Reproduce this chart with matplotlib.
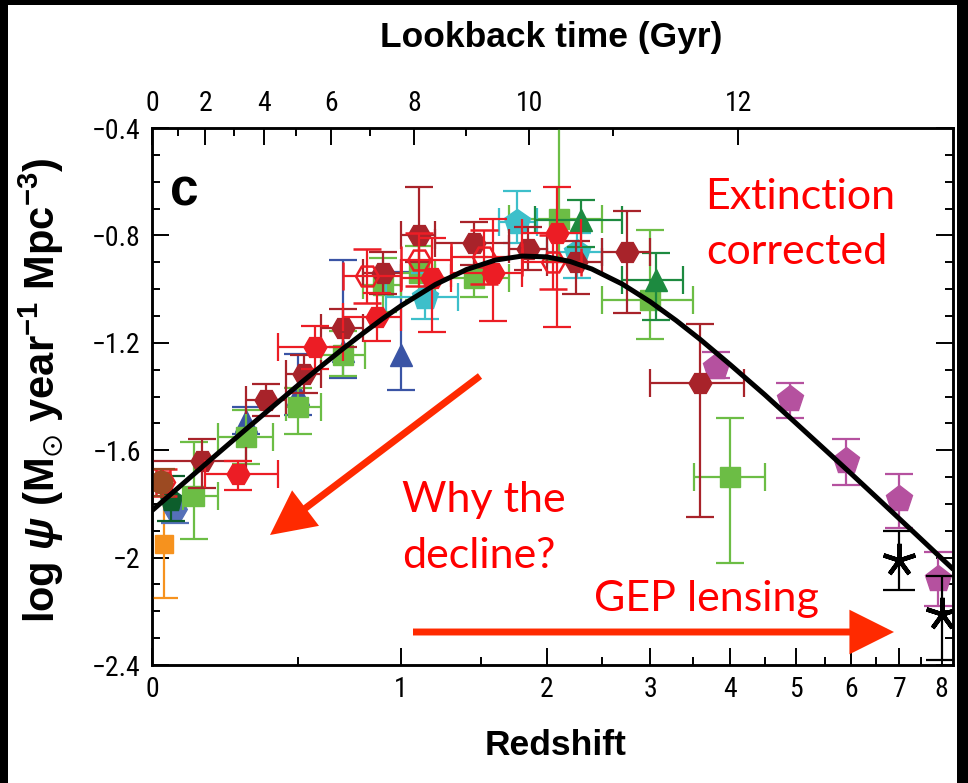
import numpy as np
import matplotlib
matplotlib.use("Agg")
import matplotlib.pyplot as plt
from matplotlib import font_manager
from matplotlib.font_manager import FontProperties
from matplotlib.patches import FancyArrowPatch, Rectangle, ArrowStyle

# ---------------- data ----------------
# model curve (log psi vs redshift)
curve_z = [0, 0.1, 0.2, 0.3, 0.4, 0.5, 0.6, 0.7, 0.8, 0.9, 1.0, 1.2, 1.4, 1.6, 1.8,
           2.0, 2.2, 2.4, 2.7, 3.0, 3.3, 3.6, 4.0, 4.5, 5.0, 5.5, 6.0, 6.5, 7.0, 7.5, 8.0, 8.3]
curve_v = [-1.825, -1.714, -1.613, -1.521, -1.437, -1.359, -1.288, -1.223, -1.164, -1.110,
           -1.062, -0.983, -0.927, -0.892, -0.877, -0.880, -0.897, -0.925, -0.981, -1.047,
           -1.117, -1.188, -1.282, -1.393, -1.499, -1.597, -1.688, -1.774, -1.855, -1.931,
           -2.003, -2.044]

# light-green squares
gsq_z = [0.125, 0.30, 0.50, 0.70, 0.90, 1.10, 1.45, 2.10, 3.00, 4.00]
gsq_v = [-1.77, -1.55, -1.44, -1.245, -0.985, -0.94, -0.96, -0.74, -1.04, -1.70]
gsq_zlo = [0.09, 0.20, 0.45, 0.60, 0.80, 1.00, 1.20, 1.70, 2.50, 3.52]
gsq_zhi = [0.20, 0.40, 0.60, 0.81, 1.00, 1.20, 1.70, 2.50, 3.50, 4.50]
gsq_dn = [0.16, 0.10, 0.10, 0.08, 0.10, 0.10, 0.07, 0.15, 0.145, 0.32]
gsq_up = [0.20, 0.10, 0.07, 0.09, 0.10, 0.10, 0.08, 0.40, 0.26, 0.22]

# blue triangles
btri_z = [0.30, 0.50, 0.70, 1.00]
btri_v = [-1.49, -1.39, -1.23, -1.245]
btri_dn = [0.05, 0.08, 0.10, 0.13]
btri_up = [0.05, 0.15, 0.34, 0.31]

# dark-red filled hexagons
dred_z = [0.15, 0.375, 0.525, 0.70, 0.90, 1.10, 1.45, 1.85, 2.25, 2.75, 3.60]
dred_v = [-1.64, -1.413, -1.316, -1.145, -0.94, -0.80, -0.83, -0.85, -0.90, -0.86, -1.35]
dred_zlo = [0.00, 0.30, 0.45, 0.60, 0.80, 1.00, 1.20, 1.70, 2.00, 2.50, 3.00]
dred_zhi = [0.30, 0.45, 0.60, 0.80, 1.00, 1.20, 1.70, 2.00, 2.50, 3.00, 4.20]
dred_dn = [0.10, 0.06, 0.07, 0.07, 0.08, 0.10, 0.08, 0.08, 0.12, 0.23, 0.50]
dred_up = [0.08, 0.06, 0.07, 0.07, 0.08, 0.18, 0.08, 0.08, 0.08, 0.15, 0.22]

# bright-red filled hexagons
red_z = [0.27, 0.575, 0.87, 1.18, 1.58, 2.09]
red_v = [-1.69, -1.216, -1.104, -0.96, -0.94, -0.79]
red_zlo = [0.16, 0.42, 0.70, 1.00, 1.30, 1.80]
red_zhi = [0.42, 0.70, 1.00, 1.30, 1.80, 2.30]
red_dn = [0.06, 0.08, 0.09, 0.20, 0.18, 0.35]
red_up = [0.05, 0.08, 0.09, 0.15, 0.20, 0.17]

# red open hexagons
rop_z = [0.03, 0.82, 1.10, 1.52, 2.05]
rop_v = [-1.72, -0.95, -0.89, -0.88, -0.90]
rop_zlo = [0.01, 0.70, 1.00, 1.30, 1.80]
rop_zhi = [0.05, 1.00, 1.30, 1.80, 2.30]
rop_dn = [0.05, 0.10, 0.10, 0.10, 0.10]
rop_up = [0.05, 0.10, 0.10, 0.10, 0.10]

# cyan pentagons
cyan_z = [1.14, 1.76, 2.26]
cyan_v = [-1.03, -0.75, -0.86]
cyan_zlo = [0.92, 1.63, 2.00]
cyan_zhi = [1.34, 1.92, 2.50]
cyan_dn = [0.08, 0.08, 0.10]
cyan_up = [0.09, 0.115, 0.07]

# dark-green triangles
dgt_z = [2.30, 3.06]
dgt_v = [-0.743, -0.966]
dgt_zlo = [1.90, 2.70]
dgt_zhi = [2.70, 3.38]
dgt_dn = [0.10, 0.15]
dgt_up = [0.075, 0.10]

# magenta pentagons
mag_z = [3.8, 4.9, 5.9, 7.0, 7.9]
mag_v = [-1.29, -1.41, -1.64, -1.78, -2.08]
mag_dn = [0.04, 0.07, 0.09, 0.11, 0.10]
mag_up = [0.055, 0.06, 0.08, 0.09, 0.10]

# black asterisks (lensing)
ast_z = [7.0, 8.0]
ast_v = [-2.01, -2.21]
ast_dn = [0.11, 0.17]
ast_up = [0.11, 0.14]

# local (z ~ 0) points
orange_z, orange_v, orange_dn, orange_up = [0.035], [-1.95], [0.20], [0.20]
brown_z, brown_v, brown_dn, brown_up = [0.025], [-1.72], [0.05], [0.05]
dgp_z, dgp_v, dgp_dn, dgp_up = [0.055], [-1.785], [0.08], [0.09]
bhex_z, bhex_v, bhex_dn, bhex_up = [0.065], [-1.82], [0.05], [0.05]

z_ticks = [0, 1, 2, 3, 4, 5, 6, 7, 8]
z_minor = [0.5, 1.5, 2.5, 3.5, 4.5, 5.5, 6.5, 7.5]
lookback_major = [0, 2, 4, 6, 8, 10, 12]
lookback_minor = [1, 3, 5, 7, 9, 11]
y_ticks = [-2.4, -2.0, -1.6, -1.2, -0.8, -0.4]
y_ticklabels = ["\u22122.4", "\u22122", "\u22121.6", "\u22121.2", "\u22120.8", "\u22120.4"]

# ---------------- fonts ----------------
names = {f.name for f in font_manager.fontManager.ttflist}
BOLD = "Liberation Sans" if "Liberation Sans" in names else "DejaVu Sans"
RED_FONT = "Lato" if "Lato" in names else "DejaVu Sans"

# look for a narrow / condensed regular face for the tick labels
pref = ["Liberation Sans Narrow", "Roboto Condensed", "Open Sans", "Noto Sans",
        "DejaVu Sans", "Roboto", "Lato"]
best = None
for f in font_manager.fontManager.ttflist:
    is_narrow = (f.stretch in ("condensed", "semi-condensed", "extra-condensed")
                 or "Narrow" in f.name or "Condensed" in f.name)
    w = f.weight if isinstance(f.weight, int) else 400
    if is_narrow and f.style == "normal" and 350 <= w <= 450:
        rank = next((i for i, p in enumerate(pref) if f.name.startswith(p)), 99)
        if best is None or rank < best[0]:
            best = (rank, f.fname)
if best is not None:
    tick_prop = FontProperties(fname=best[1], size=20)
else:
    tick_prop = FontProperties(family="Roboto" if "Roboto" in names else "DejaVu Sans",
                               size=17)

plt.rcParams["mathtext.fontset"] = "custom"
plt.rcParams["mathtext.rm"] = BOLD + ":bold"
plt.rcParams["mathtext.it"] = BOLD + ":bold:italic"
plt.rcParams["mathtext.bf"] = BOLD + ":bold"
plt.rcParams["mathtext.fallback"] = "stixsans"

# ---------------- cosmology for lookback axis ----------------
H0, Om, OL = 70.0, 0.3, 0.7
A = 2.0 / (3.0 * np.sqrt(OL)) * (977.79 / H0)
S = np.sqrt(OL / Om)
T0 = A * np.arcsinh(S)


def z_of_lookback(t):
    t = np.asarray(t, dtype=float)
    return (np.sinh((T0 - t) / A) / S) ** (-2.0 / 3.0) - 1.0


def fwd(z):
    return np.log10(1.0 + np.asarray(z, dtype=float))


def inv(x):
    return 10.0 ** np.asarray(x, dtype=float) - 1.0


# ---------------- figure ----------------
W, H = 968, 783
fig = plt.figure(figsize=(W / 100, H / 100), dpi=100)
fig.patch.set_facecolor("black")
fig.add_artist(Rectangle((8 / W, 0), (957 - 8) / W, (H - 5) / H,
                         transform=fig.transFigure, facecolor="white",
                         edgecolor="none", zorder=-10))

ax = fig.add_axes([152 / W, 1 - 665 / H, (953 - 152) / W, (665 - 128) / H])
ax.set_xscale("function", functions=(fwd, inv))
ZMAX = 8.29
ax.set_xlim(0, ZMAX)
ax.set_ylim(-2.4, -0.4)
ax.patch.set_alpha(0)

ebkw = dict(elinewidth=1.6, capthick=1.6, capsize=10, linestyle="none")


def series(z, v, dn, up, zlo=None, zhi=None, **kw):
    z = np.asarray(z)
    xerr = None
    if zlo is not None:
        xerr = [z - np.asarray(zlo), np.asarray(zhi) - z]
    opts = dict(ebkw)
    opts.update(kw)
    ax.errorbar(z, v, yerr=[dn, up], xerr=xerr, **opts)


C_GREEN = "#6cbd45"
C_BLUE = "#3a54a5"
C_DRED = "#a8232a"
C_RED = "#ec1d25"
C_CYAN = "#3dbfca"
C_DGREEN = "#1d8a40"
C_MAG = "#b5519f"
C_ORANGE = "#f6921e"
C_BROWN = "#9c4a22"
C_DGP = "#0d5e2c"
C_BHEX = "#5570b8"

series(btri_z, btri_v, btri_dn, btri_up, fmt="^", ms=16, color=C_BLUE, zorder=3)
series(orange_z, orange_v, orange_dn, orange_up, fmt="s", ms=13, color=C_ORANGE, zorder=3)
series(bhex_z, bhex_v, bhex_dn, bhex_up, fmt="H", ms=17, color=C_BHEX, zorder=3)
series(dgp_z, dgp_v, dgp_dn, dgp_up, fmt="p", ms=17, color=C_DGP, zorder=3.1)
series(gsq_z, gsq_v, gsq_dn, gsq_up, gsq_zlo, gsq_zhi, fmt="s", ms=14, color=C_GREEN, zorder=4)
series(cyan_z, cyan_v, cyan_dn, cyan_up, cyan_zlo, cyan_zhi, fmt="p", ms=19, color=C_CYAN, zorder=4.2)
series(dgt_z, dgt_v, dgt_dn, dgt_up, dgt_zlo, dgt_zhi, fmt="^", ms=16, color=C_DGREEN, zorder=4.3)
series(mag_z, mag_v, mag_dn, mag_up, fmt="p", ms=20, color=C_MAG, zorder=4.4)
series(rop_z[:1], rop_v[:1], rop_dn[:1], rop_up[:1], rop_zlo[:1], rop_zhi[:1], fmt="H",
       ms=16.5, color=C_RED, mfc="none", mew=1.8, zorder=4.45)
series(brown_z, brown_v, brown_dn, brown_up, fmt="o", ms=16, color=C_BROWN, zorder=4.5)
series(dred_z, dred_v, dred_dn, dred_up, dred_zlo, dred_zhi, fmt="H", ms=16.5, color=C_DRED, zorder=5)
series(rop_z[1:], rop_v[1:], rop_dn[1:], rop_up[1:], rop_zlo[1:], rop_zhi[1:], fmt="H",
       ms=16.5, color=C_RED, mfc="none", mew=1.8, zorder=5.5)
series(red_z, red_v, red_dn, red_up, red_zlo, red_zhi, fmt="H", ms=16.5, color=C_RED, zorder=6)
series(ast_z, ast_v, ast_dn, ast_up, fmt="none", color="black", capsize=11.5, zorder=6.5)
ax.plot(ast_z, ast_v, linestyle="none", marker=(5, 2, 0), ms=24, mew=3.2,
        color="black", zorder=6.6)

ax.plot(curve_z, curve_v, color="black", lw=3.6, solid_capstyle="butt", zorder=8)

# ---------------- ticks / spines ----------------
for sp in ax.spines.values():
    sp.set_linewidth(1.8)
ax.set_xticks(z_ticks)
ax.set_xticklabels([str(t) for t in z_ticks])
ax.set_xticks(z_minor, minor=True)
ax.set_yticks(y_ticks)
ax.set_yticklabels(y_ticklabels)
ax.set_yticks(np.arange(-2.4, -0.35, 0.1), minor=True)
ax.tick_params(which="both", direction="in", top=False, right=True, width=1.4)
ax.tick_params(which="major", length=12.5)
ax.tick_params(which="minor", length=6)
ax.tick_params(axis="x", which="major", pad=8)
ax.tick_params(axis="y", which="major", pad=8)
for lab in ax.get_xticklabels() + ax.get_yticklabels():
    lab.set_fontproperties(tick_prop)

ax2 = ax.twiny()
ax2.set_xscale("function", functions=(fwd, inv))
ax2.set_xlim(0, ZMAX)
ax2.set_xticks(z_of_lookback(lookback_major))
ax2.set_xticklabels([str(t) for t in lookback_major])
ax2.set_xticks(z_of_lookback(lookback_minor), minor=True)
ax2.tick_params(which="both", direction="in", width=1.4, bottom=False, top=True)
ax2.tick_params(which="major", length=12.5, pad=8)
ax2.tick_params(which="minor", length=6)
for lab in ax2.get_xticklabels():
    lab.set_fontproperties(tick_prop)
for sp in ax2.spines.values():
    sp.set_linewidth(1.8)


# ---------------- labels ----------------
def fx(px):
    return px / W


def fy(py):
    return 1 - py / H


fig.text(fx(551), fy(47), "Lookback time (Gyr)", ha="center", va="baseline",
         fontsize=25.5, fontweight="bold", family=BOLD)
fig.text(fx(556), fy(755), "Redshift", ha="center", va="baseline",
         fontsize=25.5, fontweight="bold", family=BOLD)
fig.text(fx(41), fy(390),
         r"log $\psi$ (M$_{\odot}$ year$^{-1}$ Mpc$^{-3}$)",
         ha="center", va="center", rotation=90, fontsize=30, fontweight="bold",
         family=BOLD)
fig.text(fx(170), fy(205), "c", ha="left", va="baseline", fontsize=37,
         fontweight="bold", family=BOLD)

red_kw = dict(color="#ff0000", fontsize=31, family=RED_FONT, ha="left", va="baseline")
fig.text(fx(705), fy(209), "Extinction", **red_kw)
fig.text(fx(706), fy(264), "corrected", **red_kw)
fig.text(fx(402), fy(512), "Why the", **red_kw)
fig.text(fx(402), fy(568), "decline?", **red_kw)
fig.text(fx(594), fy(611), "GEP lensing", **red_kw)

ARROW_C = "#ff2a00"
astyle = ArrowStyle("-|>", head_length=24, head_width=12)
for (x0, y0), (x1, y1) in [((480, 376), (270, 535)), ((413, 632), (894, 632))]:
    fig.add_artist(FancyArrowPatch((fx(x0), fy(y0)), (fx(x1), fy(y1)),
                                   transform=fig.transFigure, arrowstyle=astyle,
                                   mutation_scale=1, lw=5, color=ARROW_C,
                                   shrinkA=0, shrinkB=0, capstyle="butt",
                                   joinstyle="miter", zorder=20))

fig.savefig("out.png", dpi=100, facecolor=fig.get_facecolor())
